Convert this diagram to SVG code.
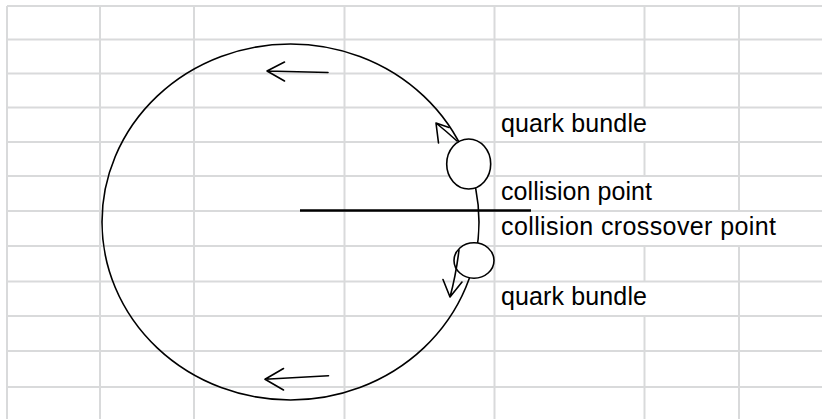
<svg xmlns="http://www.w3.org/2000/svg" width="822" height="419" viewBox="0 0 822 419">
<style>
.grid line{stroke:#d9dadb;stroke-width:2}
.ink{fill:none;stroke:#000;stroke-width:1.6;stroke-linecap:round;stroke-linejoin:round}
.bundle{fill:#fff;stroke:#000;stroke-width:1.6}
.lbl{font-family:"Liberation Sans",Arial,sans-serif;font-size:25px;fill:#000}
</style>
<rect width="822" height="419" fill="#fff"/>
<g id="grid" class="grid">
<line x1="7" y1="6" x2="822" y2="6"/>
<line x1="7" y1="39.5" x2="822" y2="39.5"/>
<line x1="7" y1="73.5" x2="822" y2="73.5"/>
<line x1="7" y1="107.5" x2="822" y2="107.5"/>
<line x1="7" y1="142" x2="822" y2="142"/>
<line x1="7" y1="176" x2="822" y2="176"/>
<line x1="7" y1="211" x2="822" y2="211"/>
<line x1="7" y1="246" x2="822" y2="246"/>
<line x1="7" y1="281.5" x2="822" y2="281.5"/>
<line x1="7" y1="316" x2="822" y2="316"/>
<line x1="7" y1="351" x2="822" y2="351"/>
<line x1="7" y1="387" x2="822" y2="387"/>
<line x1="7" y1="6" x2="7" y2="419"/>
<line x1="100" y1="6" x2="100" y2="419"/>
<line x1="194" y1="6" x2="194" y2="419"/>
<line x1="344.5" y1="6" x2="344.5" y2="419"/>
<line x1="494.5" y1="6" x2="494.5" y2="419"/>
<line x1="644.5" y1="6" x2="644.5" y2="107.5"/>
<line x1="644.5" y1="142" x2="644.5" y2="176"/>
<line x1="644.5" y1="246" x2="644.5" y2="281.5"/>
<line x1="644.5" y1="316" x2="644.5" y2="419"/>
<line x1="739" y1="6" x2="739" y2="211"/>
<line x1="739" y1="246" x2="739" y2="419"/>
</g>
<g id="ring">
<ellipse class="ink" cx="290.5" cy="222" rx="188.5" ry="178"/>
</g>
<g id="bundle-top">
<ellipse class="bundle" cx="468.7" cy="164" rx="22" ry="25"/>
</g>
<g id="bundle-bottom">
<ellipse class="bundle" cx="474" cy="260.5" rx="20" ry="17.7"/>
</g>
<g id="connectors">
<line x1="300" y1="210.5" x2="531" y2="210.5" stroke="#000" stroke-width="2.6"/>
<path class="ink" d="M328 72.5 L267 71 M284.5 62 L267 71 L284.5 81"/>
<path class="ink" d="M328.5 375.7 L265 379.3 M283.5 368.5 L265 379.3 L283.5 390"/>
<path class="ink" d="M457 141 Q446 131 436 123 M438.5 143 L436 123 L449 127.5"/>
<path class="ink" d="M459 250 Q456 275 450 297 M443 279.5 L450 297 L462 282"/>
</g>
<g id="label-quark-top"><text class="lbl" x="501" y="132" textLength="146" lengthAdjust="spacing">quark bundle</text></g>
<g id="label-collision"><text class="lbl" x="501" y="200" textLength="151" lengthAdjust="spacing">collision point</text></g>
<g id="label-crossover"><text class="lbl" x="501" y="235" textLength="275" lengthAdjust="spacing">collision crossover point</text></g>
<g id="label-quark-bottom"><text class="lbl" x="501" y="305" textLength="146" lengthAdjust="spacing">quark bundle</text></g>
</svg>
